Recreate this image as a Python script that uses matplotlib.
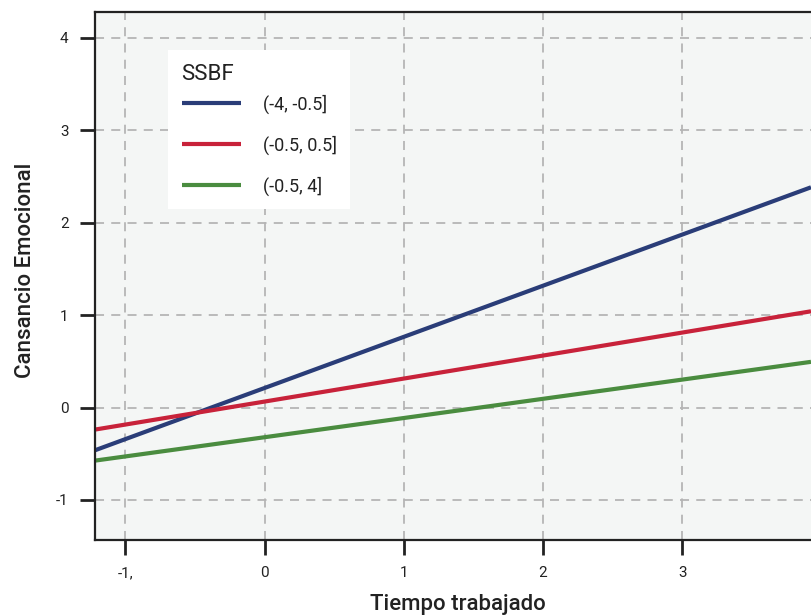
import matplotlib
matplotlib.use("Agg")
import matplotlib.pyplot as plt

plt.rcParams['font.family'] = ['Roboto', 'DejaVu Sans']
plt.rcParams['axes.unicode_minus'] = False

# regression lines, values at the left and right edge of the plot
x_ends = [-1.218, 3.925]
y_low = [-0.462, 2.384]      # (-4, -0.5]
y_mid = [-0.238, 1.042]      # (-0.5, 0.5]
y_high = [-0.574, 0.495]     # (-0.5, 4]

series_labels = ["(-4, -0.5]", "(-0.5, 0.5]", "(-0.5, 4]"]
series_colors = ["#2a3d78", "#c8223a", "#4a8c3f"]

x_ticks = [-1, 0, 1, 2, 3]
x_ticklabels = ["-1,", "0", "1", "2", "3"]
y_ticks = [-1, 0, 1, 2, 3, 4]

fig = plt.figure(figsize=(8.11, 6.16), dpi=100)
ax = fig.add_axes([95 / 811, 1 - 540 / 616, 716 / 811, 528 / 616])
ax.set_facecolor("#f4f6f5")

for ys, lab, col in zip([y_low, y_mid, y_high], series_labels, series_colors):
    ax.plot(x_ends, ys, color=col, lw=3, label=lab, solid_capstyle='butt')

ax.set_xlim(x_ends[0], x_ends[1])
ax.set_ylim(-1.433, 4.281)
ax.set_xticks(x_ticks)
ax.set_xticklabels(x_ticklabels)
ax.set_yticks(y_ticks)

ax.grid(True, color="#b5b5b5", linestyle=(0, (5, 4)), linewidth=1.3)
ax.set_axisbelow(True)

for s in ['left', 'bottom', 'top']:
    ax.spines[s].set_linewidth(1.6)
    ax.spines[s].set_color("#222222")
ax.spines['right'].set_visible(False)

ax.tick_params(axis='both', direction='out', length=11, width=2,
               color="#222222", labelsize=11, labelcolor="#222222", pad=8)

ax.set_xlabel("Tiempo trabajado", fontsize=16, fontweight='medium', color="#222222")
ax.xaxis.set_label_coords(0.507, -0.102)
ax.set_ylabel("Cansancio Emocional", fontsize=16, fontweight='medium', color="#222222")
ax.yaxis.set_label_coords(-0.083, 0.51)

leg = ax.legend(title="SSBF", loc='upper left',
                bbox_to_anchor=((168 - 95) / 716, (540 - 50) / 528),
                frameon=True, fancybox=False, framealpha=1,
                facecolor='white', edgecolor='none',
                fontsize=13, title_fontsize=16,
                handlelength=3.3, handletextpad=1.2, labelspacing=1.2,
                borderpad=0.75, borderaxespad=0)
leg._legend_box.align = "left"
leg._legend_box.sep = 7  # tighter gap between title and entries
for t in leg.get_texts():
    t.set_color("#222222")
leg.get_title().set_color("#222222")

fig.savefig("out.png", dpi=100)
